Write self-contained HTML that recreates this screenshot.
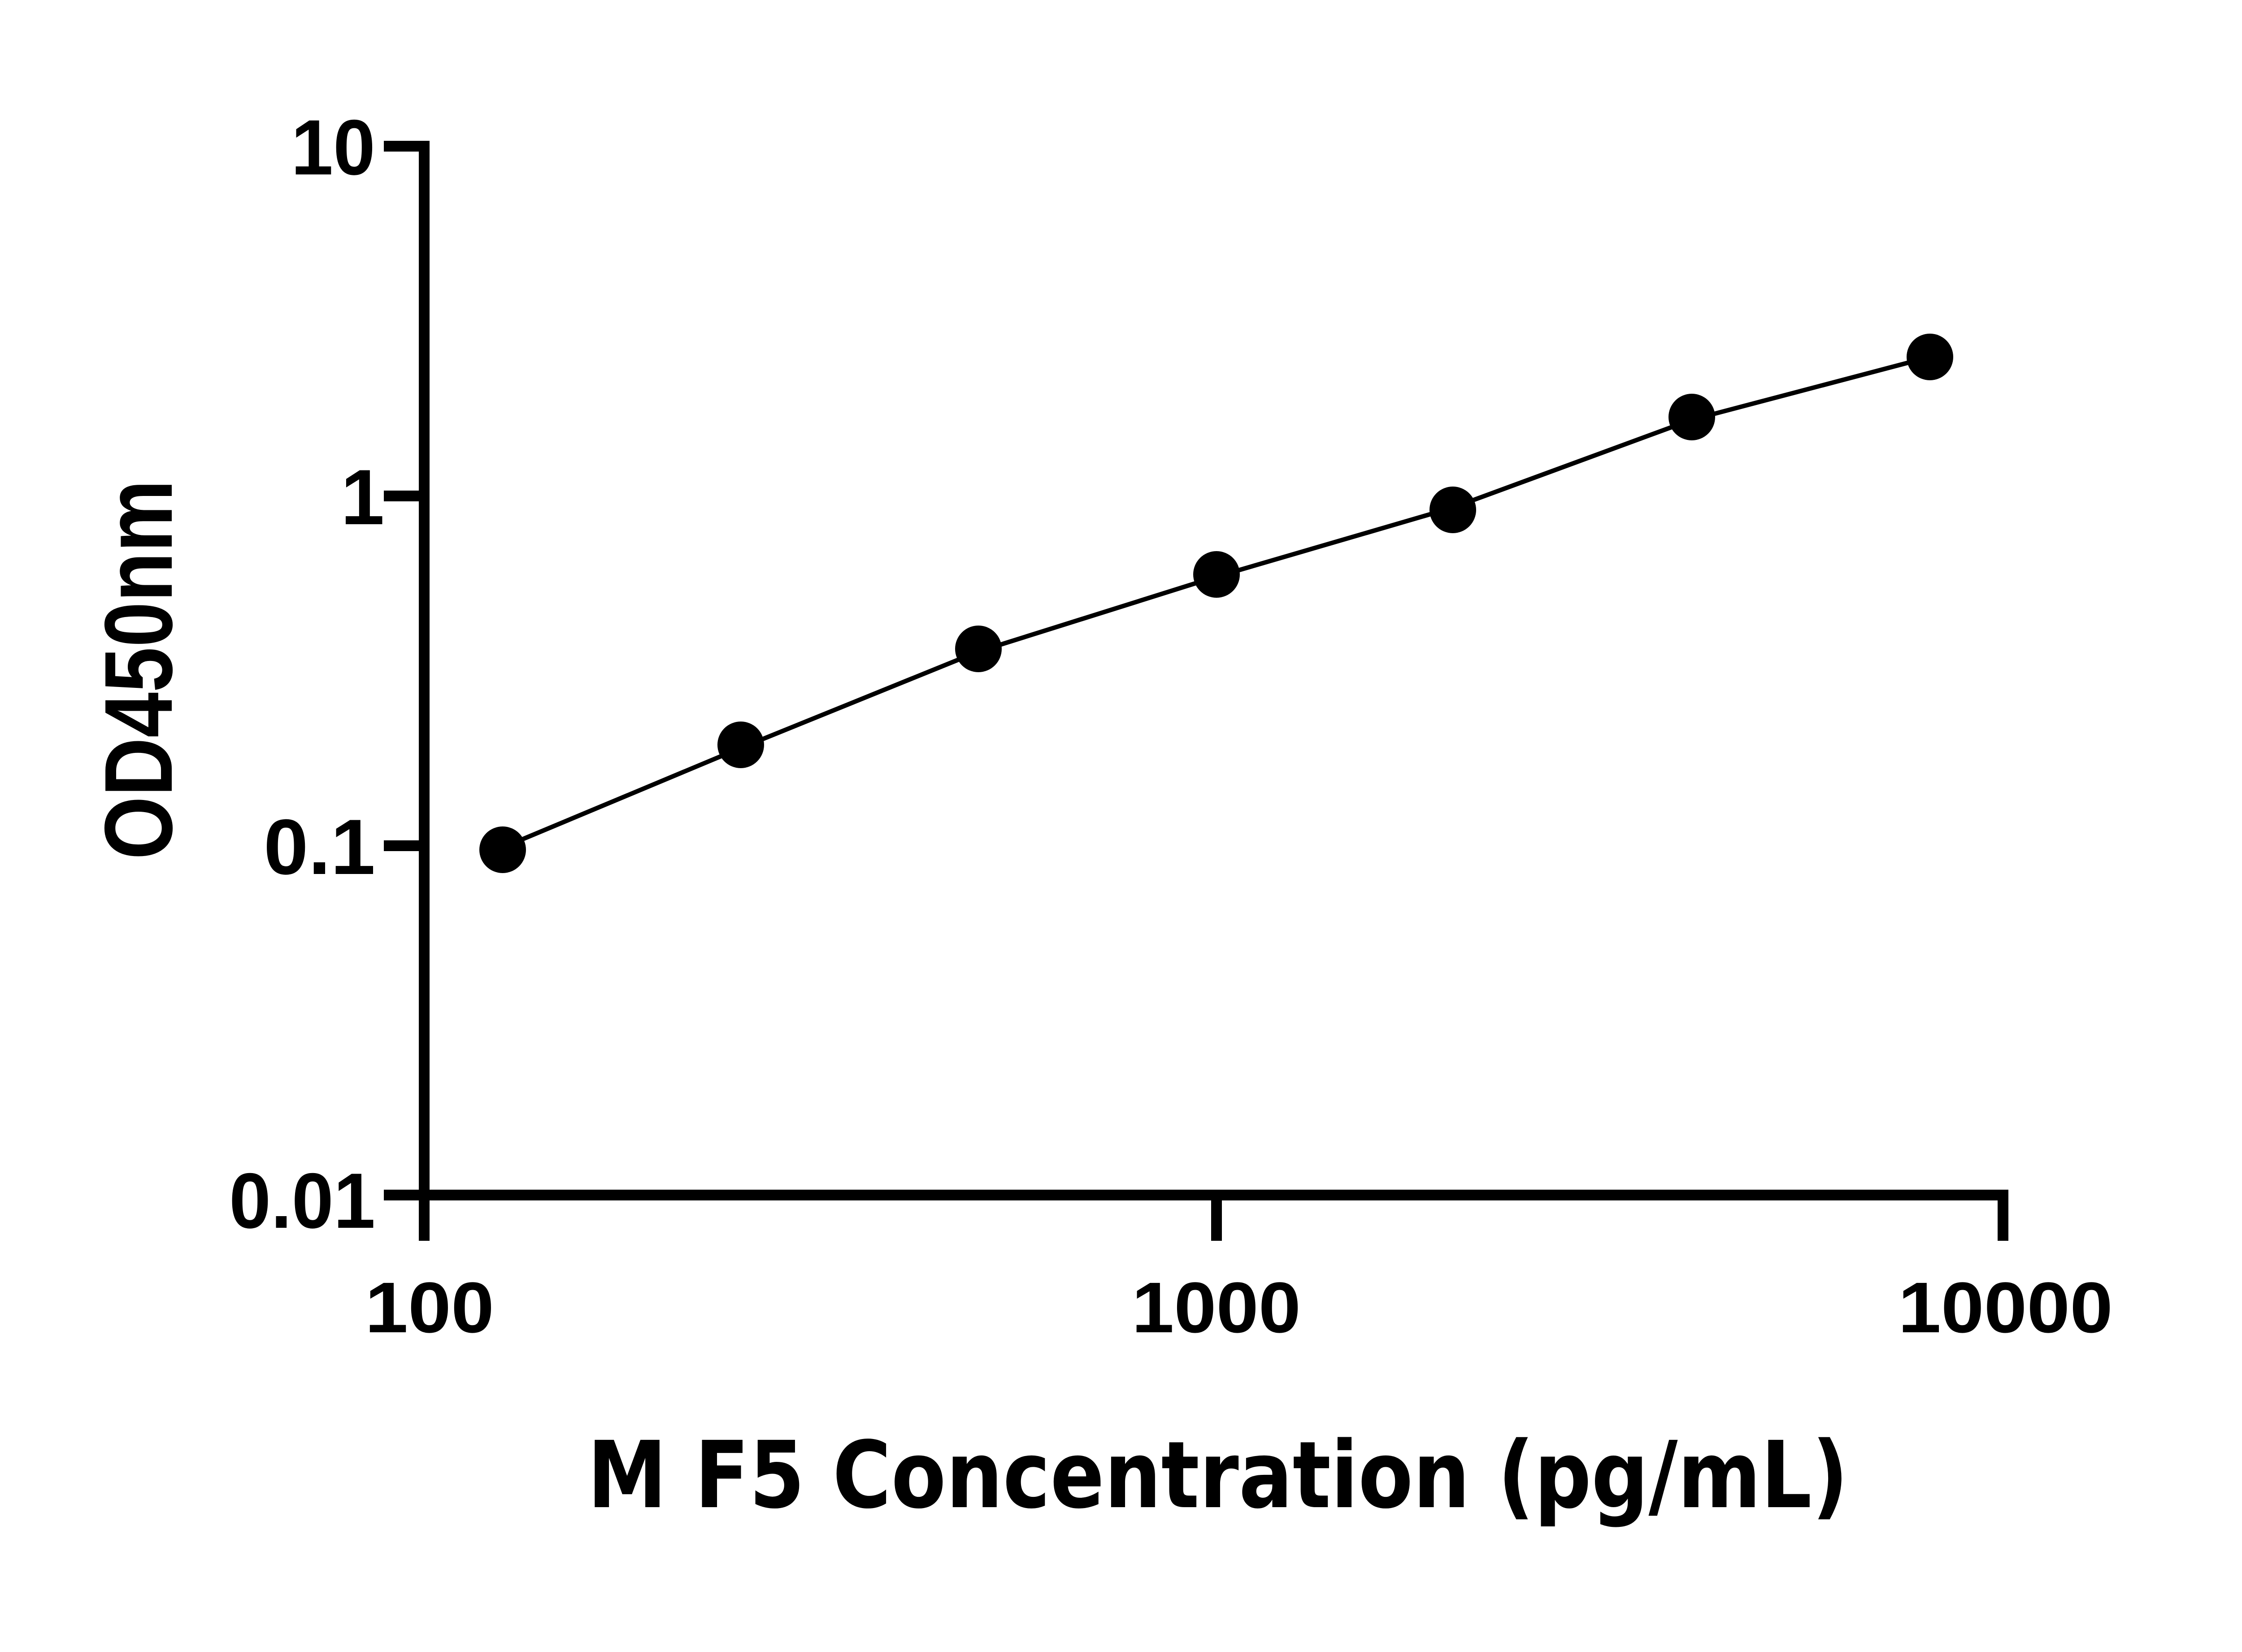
<!DOCTYPE html>
<html><head><meta charset="utf-8"><style>html,body{margin:0;padding:0;background:#fff}svg{display:block}
.l{font-family:"Liberation Sans",Arial,sans-serif;font-weight:bold}
.d{font-family:"DejaVu Sans",sans-serif;font-weight:bold}</style></head>
<body>
<svg width="5130" height="3684" viewBox="0 0 5130 3684" xmlns="http://www.w3.org/2000/svg">
<rect width="5130" height="3684" fill="#fff"/>
<g stroke="#000" stroke-width="24" fill="none" stroke-linecap="butt">
  <line x1="946" y1="314" x2="946" y2="2767"/>
  <line x1="934" y1="2665" x2="4479" y2="2665"/>
  <line x1="856" y1="326" x2="958" y2="326"/>
  <line x1="856" y1="1106" x2="946" y2="1106"/>
  <line x1="856" y1="1886" x2="946" y2="1886"/>
  <line x1="856" y1="2665" x2="946" y2="2665"/>
  <line x1="2713" y1="2665" x2="2713" y2="2767"/>
  <line x1="4467" y1="2653" x2="4467" y2="2767"/>
</g>
<polyline fill="none" stroke="#000" stroke-width="10" points="1121,1890 1652,1668 2182,1453 2713,1286 3240,1132 3773,936 4304,796"/>
<g fill="#000">
  <circle cx="1121" cy="1895" r="52"/>
  <circle cx="1652" cy="1661" r="52"/>
  <circle cx="2182" cy="1447" r="52"/>
  <circle cx="2713" cy="1281" r="52"/>
  <circle cx="3240" cy="1137" r="52"/>
  <circle cx="3773" cy="930" r="52"/>
  <circle cx="4304" cy="796" r="52"/>
</g>
<g class="l" font-size="175" fill="#000">
  <text x="649" y="389" textLength="188" lengthAdjust="spacingAndGlyphs">10</text>
  <text x="760" y="1169">1</text>
  <text x="588" y="1949" textLength="249" lengthAdjust="spacingAndGlyphs">0.1</text>
  <text x="511" y="2738" textLength="326" lengthAdjust="spacingAndGlyphs">0.01</text>
</g>
<g class="l" font-size="160" fill="#000">
  <text x="814" y="2971" textLength="288" lengthAdjust="spacingAndGlyphs">100</text>
  <text x="2524" y="2971" textLength="377" lengthAdjust="spacingAndGlyphs">1000</text>
  <text x="4233" y="2971" textLength="479" lengthAdjust="spacingAndGlyphs">10000</text>
</g>
<text class="d" x="1310" y="3361" font-size="206" textLength="2812" lengthAdjust="spacingAndGlyphs" fill="#000">M F5 Concentration (pg/mL)</text>
<text class="l" transform="translate(383,1917) rotate(-90)" x="0" y="0" font-size="215" textLength="847" lengthAdjust="spacingAndGlyphs" fill="#000">OD450nm</text>
</svg>
</body></html>
